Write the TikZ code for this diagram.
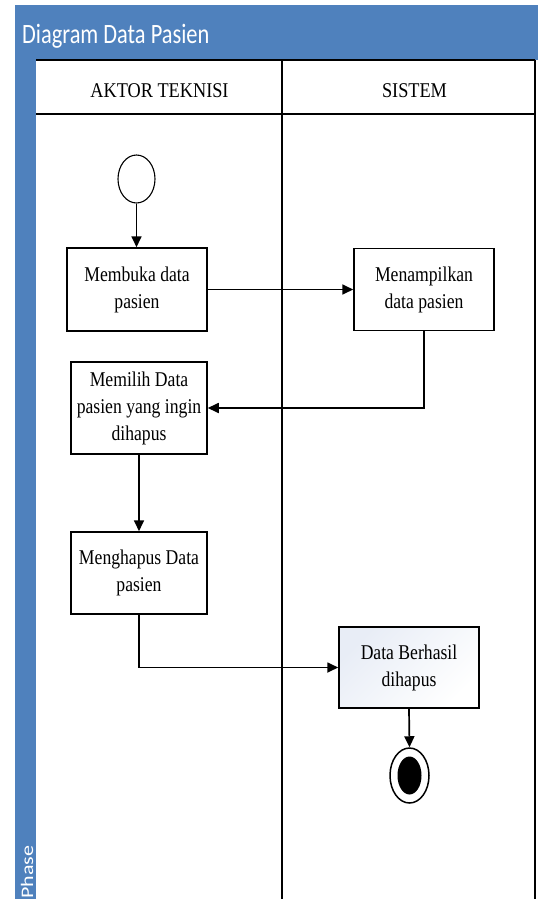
\documentclass[tikz,border=0pt]{standalone}
\usepackage{fontspec}
\setmainfont{Liberation Serif}
\newfontfamily\titlefont{Carlito}
\usetikzlibrary{shapes.geometric,arrows.meta}
\definecolor{laneblue}{RGB}{79,129,189}
\definecolor{boxshade}{RGB}{232,237,246}

% condensed multi-line label
\newcommand\lbl[1]{\scalebox{0.84}[1]{\begin{tabular}{@{}c@{}}#1\end{tabular}}}

\tikzset{
  actbox/.style={draw, line width=1.5pt, fill=white, inner sep=0pt,
    font=\fontsize{21}{27}\selectfont},
  flow/.style={line width=1.7pt, -{Triangle[length=11pt,width=10pt]}},
  laneline/.style={line width=1.6pt},
  hdr/.style={font=\fontsize{21}{25}\selectfont, inner sep=0pt},
}

\begin{document}
\begin{tikzpicture}[x=1pt,y=-1pt]
  \useasboundingbox (0,0) rectangle (538,899);

  % pool frame: title bar and phase strip
  \fill[laneblue] (15,5) rectangle (538,60);
  \fill[laneblue] (15,60) rectangle (36,899);
  \node[anchor=base west, inner sep=0pt, text=white,
        font=\titlefont\fontsize{28}{32}\selectfont] (title) at (22,44)
       {\scalebox{0.8}[1]{Diagram Data Pasien}};
  \node[anchor=base west, rotate=90, inner sep=0pt, text=white,
        font=\titlefont\fontsize{22}{26}\selectfont] (phase) at (33,899)
       {\scalebox{1}[0.8]{Phase}};

  % lanes
  \draw[laneline] (36,60) -- (535,60);
  \draw[laneline] (36,114) -- (535,114);
  \draw[laneline] (282,60) -- (282,899);
  \draw[laneline] (535,60) -- (535,899);
  \node[hdr, anchor=base] (hA) at (159.5,97) {\scalebox{0.87}[1]{AKTOR TEKNISI}};
  \node[hdr, anchor=base] (hS) at (414.5,97) {\scalebox{0.87}[1]{SISTEM}};

  % start node
  \node[draw, ellipse, line width=1.1pt, fill=white, minimum width=37pt,
        minimum height=48pt, inner sep=0pt] (start) at (136.5,179) {};

  % activities
  \node[actbox, minimum width=140pt, minimum height=83pt] (b1) at (137,289.5)
       {\lbl{Membuka data\\pasien}};
  \node[actbox, minimum width=140pt, minimum height=82pt] (b2) at (424,289.5)
       {\lbl{Menampilkan\\data pasien}};
  \node[actbox, minimum width=136pt, minimum height=92pt] (b3) at (139,408)
       {\lbl{Memilih Data\\pasien yang ingin\\dihapus}};
  \node[actbox, minimum width=136pt, minimum height=82pt] (b4) at (139,573)
       {\lbl{Menghapus Data\\pasien}};
  \node[actbox, minimum width=140pt, minimum height=81pt,
        left color=boxshade, middle color=white, right color=white,
        shading angle=45] (b5) at (409,667.5)
       {\lbl{Data Berhasil\\dihapus}};

  % final node
  \node[draw, ellipse, line width=1.5pt, fill=white, minimum width=39pt,
        minimum height=55pt, inner sep=0pt] (end) at (409.5,775.5) {};
  \node[ellipse, fill=black, minimum width=24pt, minimum height=38pt,
        inner sep=0pt] (endc) at (end.center) {};

  % control flow
  \draw[flow] (start.south) -- (start.south |- b1.north);
  \draw[flow] (b1.east) -- (b1.east -| b2.west);
  \draw[flow] (b2.south) |- (b3.east);
  \draw[flow] (b3.south) -- (b4.north);
  \draw[flow] (b4.south) |- (b5.west);
  \draw[flow] (b5.south) -- (end.north);
\end{tikzpicture}
\end{document}
